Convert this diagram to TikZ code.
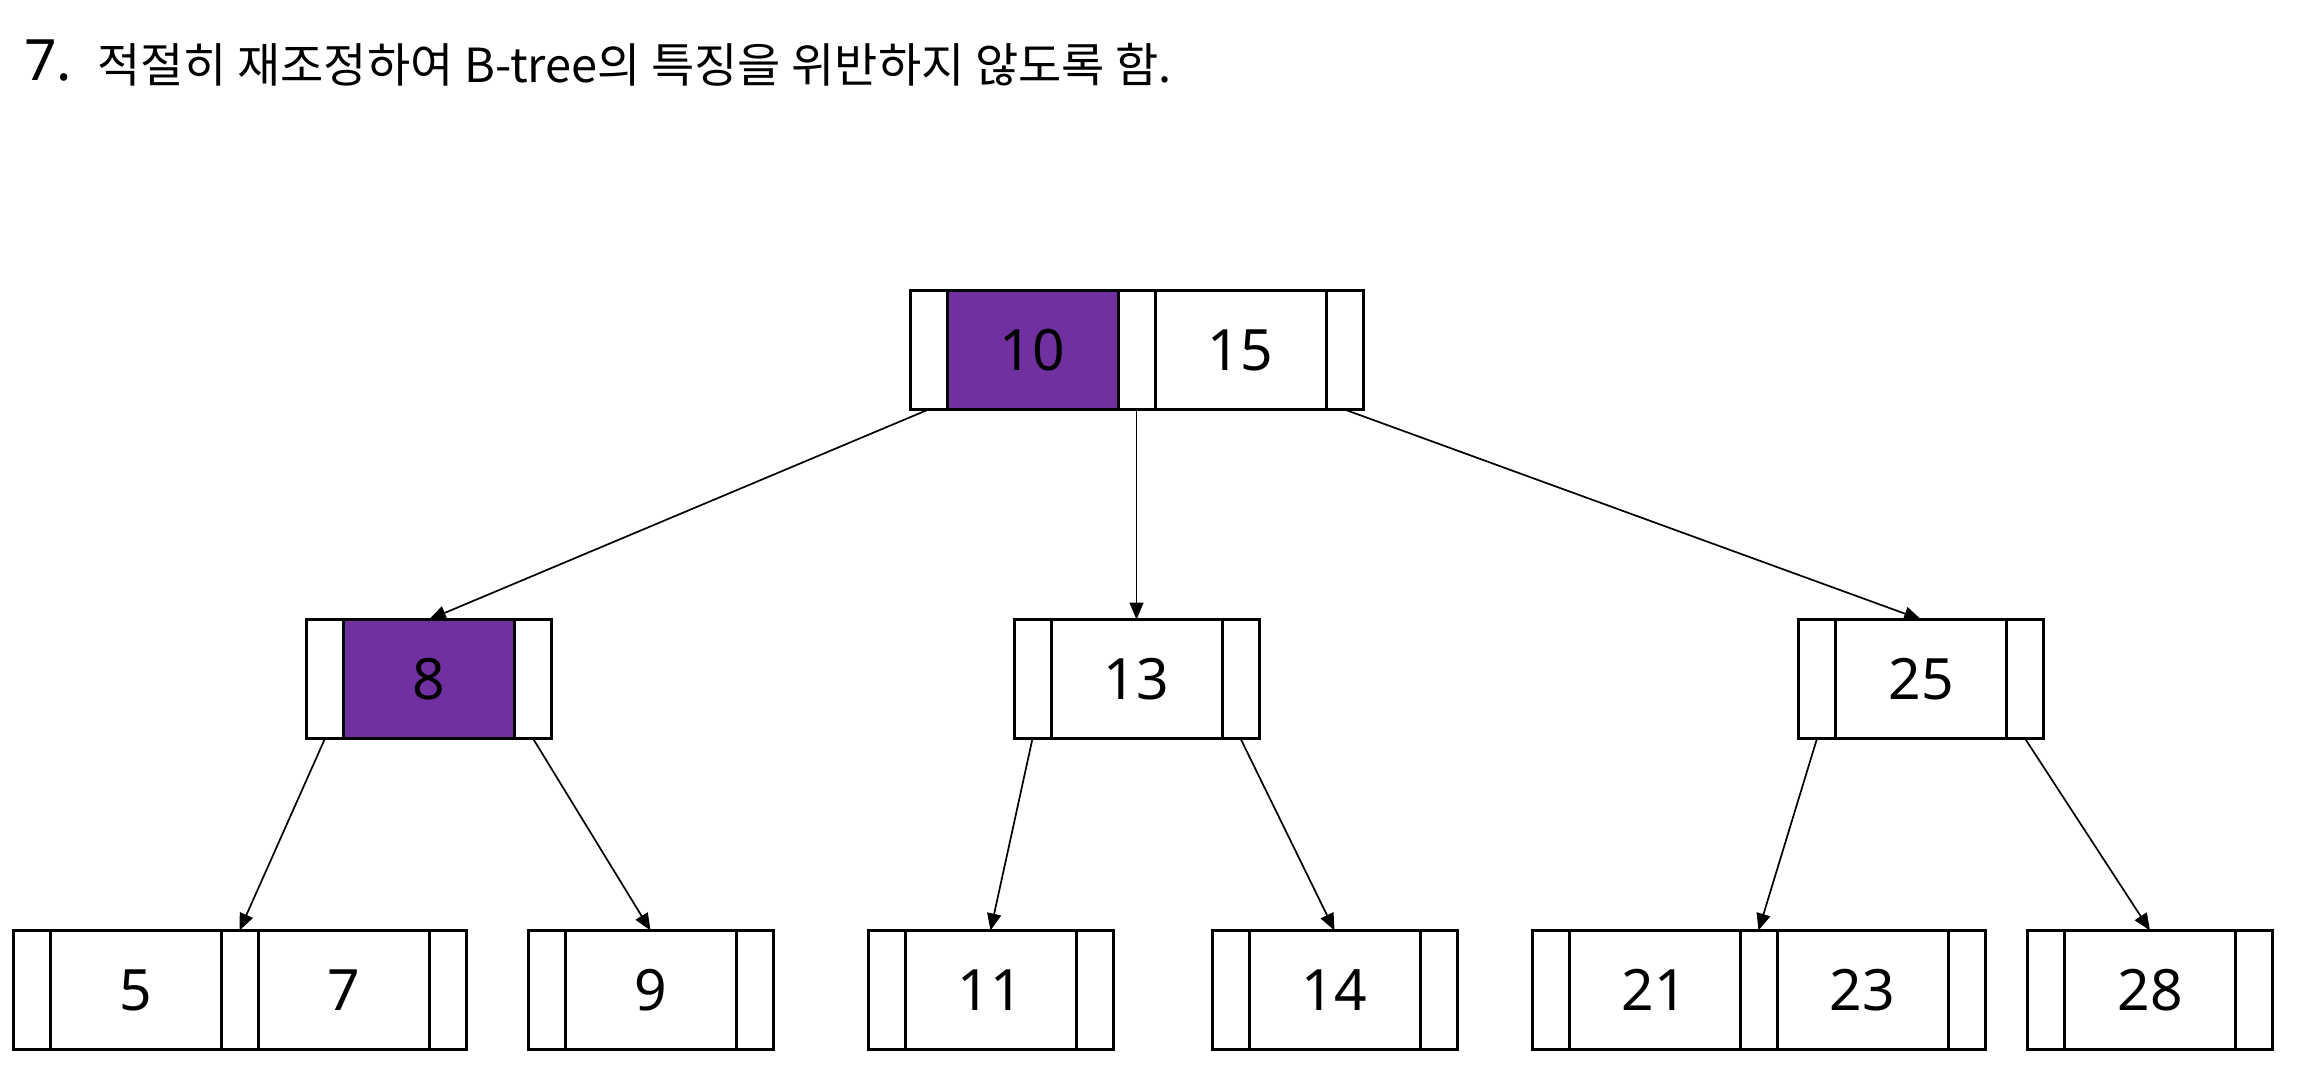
\documentclass[tikz,border=0pt]{standalone}
\usepackage{fontspec}
\setmainfont{Noto Sans}
\newfontfamily\krfont{Noto Sans CJK KR}
\usetikzlibrary{arrows.meta}
\definecolor{bpurple}{HTML}{7030A0}
\newcommand\BTone[5]{%
  \node[ptr] (#1a) at ({#2-104},#3) {};
  \node[key,#5] (#1k) at (#2,#3) {#4};
  \node[ptr] (#1b) at ({#2+104},#3) {};}
\newcommand\BTtwo[6]{%
  \node[ptr] (#1a) at ({#2-208},#3) {};
  \node[key,#6] (#1k) at ({#2-104},#3) {#4};
  \node[ptr] (#1m) at (#2,#3) {};
  \node[key] (#1j) at ({#2+104},#3) {#5};
  \node[ptr] (#1b) at ({#2+208},#3) {};}
\begin{document}
\begin{tikzpicture}[x=1pt,y=-1pt,
  cell/.style={draw,line width=3pt,inner sep=0pt,outer sep=0pt,minimum height=119pt},
  ptr/.style={cell,minimum width=37pt},
  key/.style={cell,minimum width=171pt,font=\fontsize{57}{57}\selectfont},
  hl/.style={fill=bpurple},
  link/.style={line width=1.7pt,-{Triangle[length=17pt,width=14pt]}}]
\useasboundingbox (0,0) rectangle (2302,1077);
\node[anchor=base west,inner sep=0pt,font=\fontsize{57}{57}\selectfont] (num) at (24,80) {7.};
\node[anchor=base west,inner sep=0pt,font=\krfont\fontsize{47}{47}\selectfont] (title) at (97,82) {적절히 재조정하여 B-tree의 특징을 위반하지 않도록 함.};
% root
\BTtwo{root}{1136.5}{350}{10}{15}{hl}
% middle level
\BTone{neight}{429}{679}{8}{hl}
\BTone{nthirteen}{1136.5}{679}{13}{}
\BTone{ntwentyfive}{1921}{679}{25}{}
% leaves
\BTtwo{nfive}{239.5}{990}{5}{7}{}
\BTone{nnine}{650.5}{990}{9}{}
\BTone{neleven}{990.5}{990}{11}{}
\BTone{nfourteen}{1334.5}{990}{14}{}
\BTtwo{ntwentyone}{1758.5}{990}{21}{23}{}
\BTone{ntwentyeight}{2150}{990}{28}{}
% links
\draw[link] (roota.south) -- (neightk.north);
\draw[link] (rootm.south) -- (nthirteenk.north);
\draw[link] (rootb.south) -- (ntwentyfivek.north);
\draw[link] (neighta.south) -- (nfivem.north);
\draw[link] (neightb.south) -- (nninek.north);
\draw[link] (nthirteena.south) -- (nelevenk.north);
\draw[link] (nthirteenb.south) -- (nfourteenk.north);
\draw[link] (ntwentyfivea.south) -- (ntwentyonem.north);
\draw[link] (ntwentyfiveb.south) -- (ntwentyeightk.north);
\end{tikzpicture}
\end{document}
